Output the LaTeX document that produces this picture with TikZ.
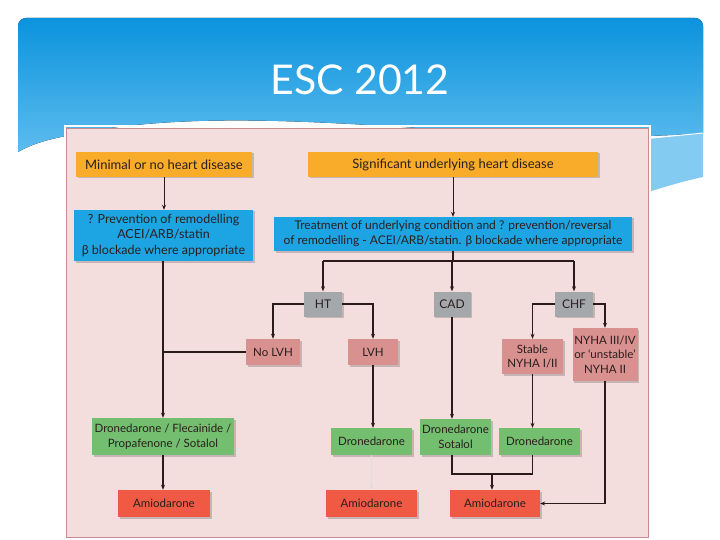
\documentclass[tikz,border=0pt]{standalone}
\usepackage{fontspec}
\setmainfont{Lato}
\usetikzlibrary{arrows.meta,shadows}
\definecolor{orangeC}{HTML}{F8AC2A}
\definecolor{blueC}{HTML}{1CA5E2}
\definecolor{grayC}{HTML}{A5A8AB}
\definecolor{pinkC}{HTML}{D9918F}
\definecolor{greenC}{HTML}{74BE6F}
\definecolor{redC}{HTML}{F05A44}
\definecolor{panelC}{HTML}{F3DEDD}
\definecolor{panelB}{HTML}{C98A90}
\definecolor{blueTop}{HTML}{0B93DD}
\definecolor{blueBot}{HTML}{5DBCEE}
\definecolor{bandC}{HTML}{84CBF2}
\definecolor{txtC}{HTML}{2A1E1E}
\definecolor{lineC}{HTML}{2A1A1A}
\tikzset{
  box/.style={inner sep=0pt, align=center, text=txtC, font=\fontsize{11.5}{14.5}\selectfont,
    drop shadow={shadow xshift=1.5pt, shadow yshift=-1.5pt, opacity=0.18, fill=black}},
  obox/.style={box, fill=orangeC, font=\fontsize{13}{15}\selectfont},
  bbox/.style={box, fill=blueC, font=\fontsize{12.5}{15.5}\selectfont},
  gbox/.style={box, fill=grayC, font=\fontsize{12}{15}\selectfont},
  pbox/.style={box, fill=pinkC},
  grbox/.style={box, fill=greenC},
  rbox/.style={box, fill=redC},
  conn/.style={draw=lineC, line width=1.1pt},
  thickconn/.style={draw=lineC, line width=1.8pt},
  arr/.style={-{Stealth[length=5pt,width=4pt]}},
}
\begin{document}
\begin{tikzpicture}[x=1pt,y=-1pt]
\useasboundingbox (0,0) rectangle (720,540);
\fill[white] (0,0) rectangle (720,540);
% blue header
\fill[top color=blueTop, bottom color=blueBot, rounded corners=8pt]
  (18,152) -- (18,18) -- (703,18) [sharp corners] -- (703,133)
  .. controls (500,150) and (250,95) .. (66,136)
  .. controls (45,140) and (30,145) .. (18,152) -- cycle;
\fill[bandC] (640,139.3) -- (703,133) -- (703,177) .. controls (680,182) and (665,187) .. (648,192) -- (640,194) -- cycle;
\draw[white, line width=0.9pt] (640,139.3) -- (703,133);
\node[text=white, font=\fontsize{41}{48}\selectfont] (title) at (360,80) {ESC 2012};
% panel
\draw[white, line width=2pt] (64.5,126.5) rectangle (649.5,538.5);
\filldraw[fill=panelC, draw=panelB, line width=0.9pt] (66,128) rectangle (648,537);
% nodes
\node[obox, minimum width=176pt, minimum height=25pt] (min) at (164,164.5) {Minimal or no heart disease};
\node[obox, minimum width=290pt, minimum height=25pt] (sig) at (453,164.5) {Significant underlying heart disease};
\node[bbox, minimum width=179pt, minimum height=51pt] (prev) at (163.5,235.5) {? Prevention of remodelling\\ACEI/ARB/statin\\β blockade where appropriate};
\node[bbox, font=\fontsize{12}{15}\selectfont, minimum width=358pt, minimum height=34pt] (treat) at (453,234) {Treatment of underlying condition and ? prevention/reversal\\of remodelling - ACEI/ARB/statin. β blockade where appropriate};
\node[gbox, minimum width=38pt, minimum height=25pt] (ht) at (323,304) {HT};
\node[gbox, minimum width=37pt, minimum height=25pt] (cad) at (452,304) {CAD};
\node[gbox, minimum width=38pt, minimum height=25pt] (chf) at (574,304) {CHF};
\node[pbox, minimum width=54pt, minimum height=26pt] (nolvh) at (273,352) {No LVH};
\node[pbox, minimum width=50pt, minimum height=26pt] (lvh) at (373,352) {LVH};
\node[pbox, minimum width=61pt, minimum height=35pt] (stable) at (532.5,356.5) {Stable\\NYHA I/II};
\node[pbox, minimum width=65pt, minimum height=53pt] (nyha) at (605,354.5) {NYHA III/IV\\or ‘unstable’\\NYHA II};
\node[grbox, minimum width=142pt, minimum height=37pt] (dfps) at (163,436.5) {Dronedarone / Flecainide /\\Propafenone / Sotalol};
\node[grbox, minimum width=81pt, minimum height=27pt] (dr1) at (371.5,441.5) {Dronedarone};
\node[grbox, minimum width=71pt, minimum height=36pt] (ds) at (455.5,437) {Dronedarone\\Sotalol};
\node[grbox, minimum width=81pt, minimum height=27pt] (dr2) at (539.5,441.5) {Dronedarone};
\node[rbox, minimum width=92pt, minimum height=27pt] (am1) at (164,503.5) {Amiodarone};
\node[rbox, minimum width=91pt, minimum height=27pt] (am2) at (371.5,503.5) {Amiodarone};
\node[rbox, minimum width=90pt, minimum height=27pt] (am3) at (495,503.5) {Amiodarone};
\coordinate (br) at (453,261);
\coordinate (mj) at (492,474);
% connectors
\draw[conn, line width=0.8pt, arr] (min.south) -- (min.south |- prev.north);
\draw[conn, line width=0.8pt, arr] (sig.south) -- (treat.north);
\draw[thickconn, arr] (prev.south -| dfps.north) -- (dfps.north);
\draw[conn] (nolvh.west) -- (dfps.north |- nolvh.west);
\draw[conn, arr] (dfps.south) -- (dfps.south |- am1.north);
\draw[thickconn] (treat.south) -- (br);
\draw[thickconn] (ht.north |- br) -- (chf.north |- br);
\draw[thickconn, arr] (ht.north |- br) -- (ht.north);
\draw[thickconn, arr] (cad.north |- br) -- (cad.north);
\draw[thickconn, arr] (chf.north |- br) -- (chf.north);
\draw[thickconn, arr] (ht.west) -| (nolvh.north);
\draw[conn, line width=1.4pt, arr] (ht.east) -| (lvh.north);
\draw[thickconn, arr] (chf.west) -| (stable.north);
\draw[conn, arr] (chf.east) -| (nyha.north);
\draw[conn, arr] (lvh.south) -- (lvh.south |- dr1.north);
\draw[draw=lineC!15, line width=0.6pt, arr] (dr1.south) -- (dr1.south |- am2.north);
\draw[conn, arr] (cad.south) -- (cad.south |- ds.north);
\draw[thickconn, line width=1.5pt, arr] (stable.south) -- (stable.south |- dr2.north);
\draw[conn] (cad.south |- ds.south) |- (mj) -| (stable.south |- dr2.south);
\draw[conn, arr] (mj) -- (mj |- am3.north);
\draw[conn, arr] (nyha.south) |- (am3.east);
\end{tikzpicture}
\end{document}
